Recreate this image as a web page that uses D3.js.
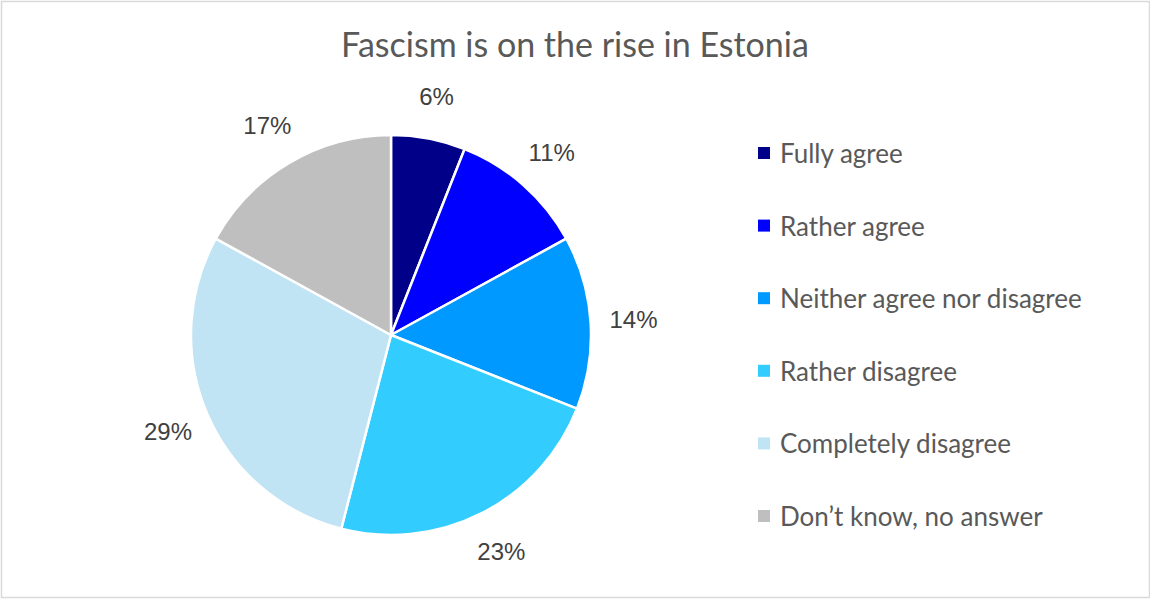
<!DOCTYPE html>
<html>
<head>
<meta charset="utf-8">
<script src="https://cdn.jsdelivr.net/npm/d3@7"></script>
<style>
  html, body { margin: 0; padding: 0; background: #fff; }
  svg { display: block; }
</style>
</head>
<body>
<svg id="chart" width="1150" height="600"></svg>
<script>
// Survey answers: "Fascism is on the rise in Estonia"
const categories = [
  "Fully agree",
  "Rather agree",
  "Neither agree nor disagree",
  "Rather disagree",
  "Completely disagree",
  "Don\u2019t know, no answer"
];
const shares = [6, 11, 14, 23, 29, 17];
const sliceColors = ["#000088", "#0000FF", "#0099FF", "#33CCFF", "#C1E4F5", "#BFBFBF"];
const chartTitle = "Fascism is on the rise in Estonia";

const W = 1150, H = 600;
const fontFamily = "Lato, 'Noto Sans', sans-serif";
const svg = d3.select("#chart");

// outer frame
svg.append("rect")
  .attr("x", 1.5).attr("y", 1.5)
  .attr("width", W - 2).attr("height", H - 4)
  .attr("fill", "#fff")
  .attr("stroke", "#D9D9D9")
  .attr("stroke-width", 1.5);

// title
svg.append("text")
  .attr("x", 575).attr("y", 57)
  .attr("text-anchor", "middle")
  .attr("font-family", fontFamily)
  .attr("font-size", 34)
  .attr("fill", "#595959")
  .text(chartTitle);

// pie
const cx = 391, cy = 335, radius = 200, labelRadius = 243;
const color = d3.scaleOrdinal().domain(categories).range(sliceColors);
const data = categories.map((c, i) => ({ category: c, value: shares[i] }));
const pie = d3.pie().sort(null).value(d => d.value);
const arcs = pie(data);
const arc = d3.arc().innerRadius(0).outerRadius(radius);
const labelArc = d3.arc().innerRadius(labelRadius).outerRadius(labelRadius);

const g = svg.append("g").attr("transform", `translate(${cx},${cy})`);
g.selectAll("path.slice")
  .data(arcs)
  .join("path")
  .attr("class", "slice")
  .attr("d", arc)
  .attr("fill", d => color(d.data.category))
  .attr("stroke", "#fff")
  .attr("stroke-width", 2.5)
  .attr("stroke-linejoin", "round");

g.selectAll("text.pct")
  .data(arcs)
  .join("text")
  .attr("class", "pct")
  .attr("transform", d => `translate(${labelArc.centroid(d)})`)
  .attr("text-anchor", "middle")
  .attr("dominant-baseline", "central")
  .attr("font-family", "'Liberation Sans', Arial, sans-serif")
  .attr("font-size", 24)
  .attr("fill", "#404040")
  .text(d => d.data.value + "%");

// legend
const legendY = d3.scalePoint().domain(categories).range([153, 516]);
const legend = svg.append("g");
const item = legend.selectAll("g")
  .data(categories)
  .join("g")
  .attr("transform", d => `translate(758,${legendY(d)})`);
item.append("rect")
  .attr("x", 0).attr("y", -6)
  .attr("width", 12).attr("height", 12)
  .attr("fill", d => color(d));
item.append("text")
  .attr("x", 22).attr("y", 0)
  .attr("dominant-baseline", "central")
  .attr("font-family", fontFamily)
  .attr("font-size", 26)
  .attr("fill", "#595959")
  .text(d => d);
</script>
</body>
</html>
